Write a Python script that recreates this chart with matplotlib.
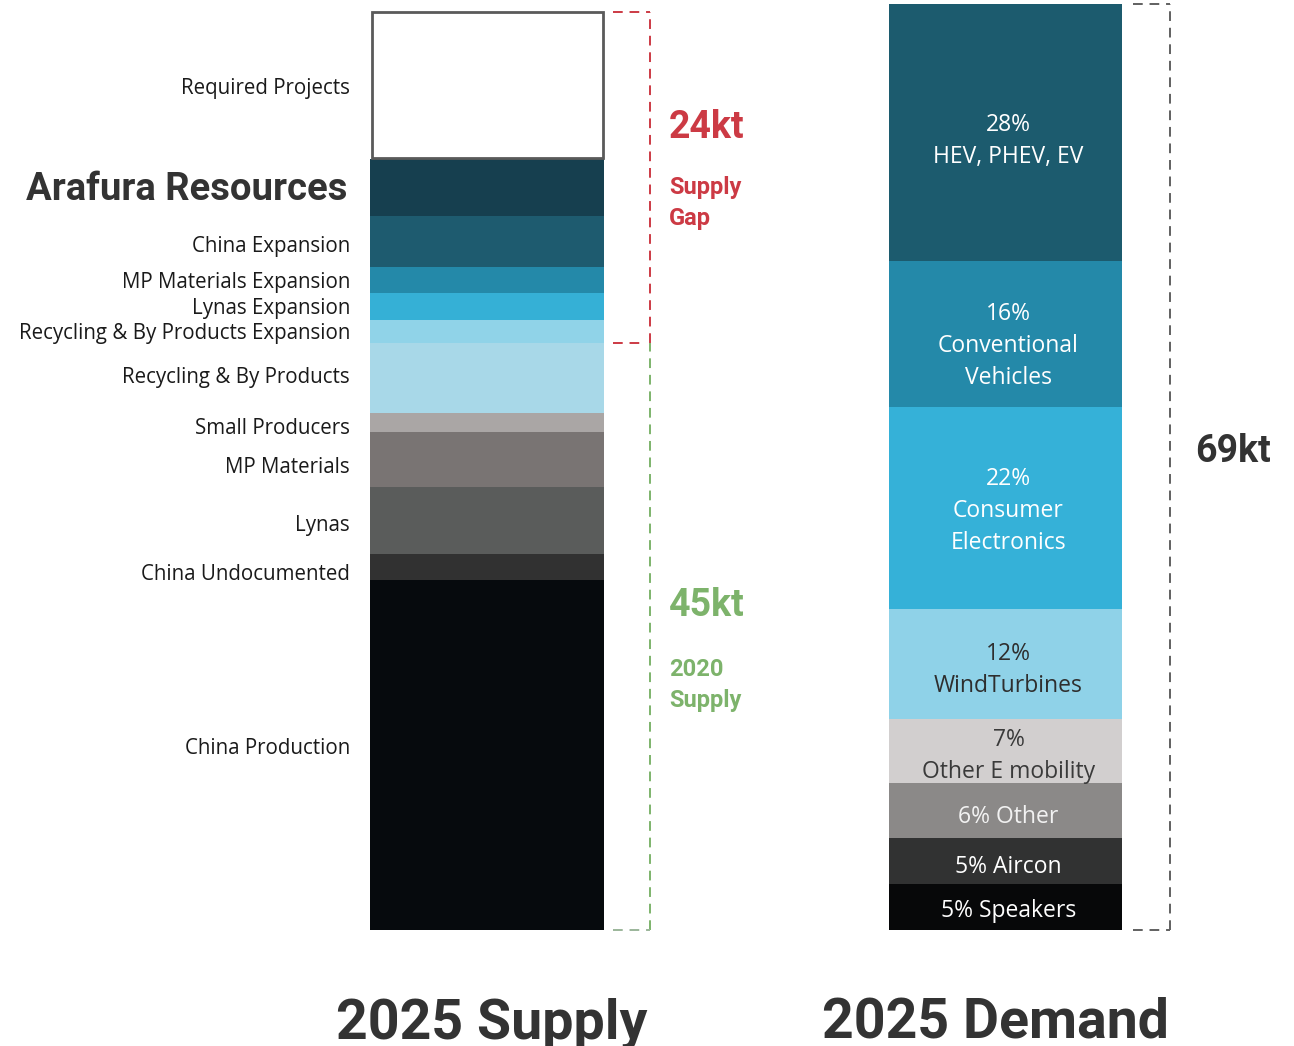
import numpy as np
import matplotlib
matplotlib.use("Agg")
import matplotlib.pyplot as plt

# ---------------- data ----------------
supply_labels = ["China Production", "China Undocumented", "Lynas", "MP Materials",
                 "Small Producers", "Recycling & By Products",
                 "Recycling & By Products Expansion", "Lynas Expansion",
                 "MP Materials Expansion", "China Expansion",
                 "Arafura Resources", "Required Projects"]
supply_kt = [26.3, 2.0, 5.0, 4.2, 1.4, 5.3, 1.7, 2.0, 2.0, 3.8, 4.3, 11.1]
supply_colors = ["#060a0d", "#313131", "#5a5c5b", "#797473", "#aaa6a5", "#a8d8e8",
                 "#90d3e8", "#35b0d6", "#2489a9", "#1e5b6f", "#163f4f", "#ffffff"]
n_existing = 6  # first six segments = 2020 supply

demand_labels = ["5% Speakers", "5% Aircon", "6% Other", "7%\nOther E mobility",
                 "12%\nWindTurbines", "22%\nConsumer\nElectronics",
                 "16%\nConventional\nVehicles", "28%\nHEV, PHEV, EV"]
demand_pct = [5, 5, 6, 7, 12, 22, 16, 28]
demand_total_kt = 69
demand_colors = ["#070809", "#313232", "#8b8988", "#d2cfcf", "#8fd2e8", "#35b1d8",
                 "#2489a9", "#1c5b6e"]
demand_text_colors = ["white", "white", "#f2f2f2", "#3a3a3a", "#2e2e2e", "white",
                      "white", "white"]

gap_label, gap_sub = "24kt", "Supply\nGap"
base_label, base_sub = "45kt", "2020\nSupply"
demand_label = "69kt"
titles = ["2025 Supply", "2025 Demand"]

# ---------------- layout ----------------
W, H = 1294, 1046
fig = plt.figure(figsize=(W / 100, H / 100), dpi=100)
ax = fig.add_axes([0, 0, 1, 1])
k = 13.29            # px per kt
y0_px = 930          # pixel row of zero
ax.set_xlim(0, W)
ax.set_ylim(-(H - y0_px) / k, y0_px / k)
ax.axis("off")

lab_font = "Open Sans"
bold_font = "Roboto"

# supply bar
xs, ws = 487, 234
sup = np.array(supply_kt)
sup_bottoms = np.concatenate([[0], np.cumsum(sup)[:-1]])
for i, (v, b, c) in enumerate(zip(sup, sup_bottoms, supply_colors)):
    if i == len(sup) - 1:
        ax.bar(xs, v - 0.08, bottom=b + 0.08, width=ws - 3, color=c,
               edgecolor="#5a5a5a", linewidth=2.0, zorder=3)
    else:
        ax.bar(xs, v, bottom=b, width=ws, color=c, linewidth=0, zorder=2)

label_dy_px = [-7, 7, 5, 8, 6, 0, 2, 2, 2, 5, 2, 3]
for i, lab in enumerate(supply_labels):
    yc = sup_bottoms[i] + sup[i] / 2 - label_dy_px[i] / k
    if lab == "Arafura Resources":
        ax.text(347, yc, lab, ha="right", va="center", fontsize=27.5,
                fontweight="bold", family=bold_font, color="#333333")
    else:
        ax.text(350, yc, lab, ha="right", va="center", fontsize=14.8,
                family=lab_font, color="#1a1a1a")

# demand bar
xd, wd = 1005.5, 233
dem = np.array(demand_pct) / 100 * demand_total_kt
dem_bottoms = np.concatenate([[0], np.cumsum(dem)[:-1]])
ax.bar(xd, dem, bottom=dem_bottoms, width=wd, color=demand_colors, linewidth=0, zorder=2)
dem_dy_px = [4, 6, 6, 5, 6, 3, 12, 9]
for i, lab in enumerate(demand_labels):
    yc = dem_bottoms[i] + dem[i] / 2 - dem_dy_px[i] / k
    ax.text(xd + 3, yc, lab, ha="center", va="center", fontsize=16.5,
            family=lab_font, color=demand_text_colors[i], linespacing=1.45, zorder=4)

# brackets
red, green, grey = "#cc3a44", "#7db36b", "#606060"
dash = (0, (5, 3.5))
top_sup = sup.sum()
base = sup[:n_existing].sum()
bx = 650
ax.plot([bx, bx], [base, top_sup], color=red, lw=1.4, ls=dash)
ax.plot([613, bx], [top_sup, top_sup], color=red, lw=1.4, ls=dash)
ax.plot([613, bx - 4], [base, base], color=red, lw=1.4, ls=dash)
ax.plot([bx, bx], [0, base], color=green, lw=1.4, ls=dash)
ax.plot([613, bx], [0, 0], color="#9bb59a", lw=1.4, ls=dash)
top_dem = dem.sum()
gx = 1170
ax.plot([gx, gx], [0, top_dem], color=grey, lw=1.4, ls=dash)
ax.plot([1133, gx], [top_dem, top_dem], color=grey, lw=1.4, ls=dash)
ax.plot([1133, gx], [0, 0], color=grey, lw=1.4, ls=dash)

# bracket texts (pixel-row positions converted to data)
def py(p):
    return (y0_px - p) / k

ax.text(669, py(128), gap_label, ha="left", va="center", fontsize=27,
        fontweight="bold", family=bold_font, color=red)
ax.text(669, py(203), gap_sub, ha="left", va="center", fontsize=17,
        fontweight="bold", family=bold_font, color=red, linespacing=1.4)
ax.text(669, py(605), base_label, ha="left", va="center", fontsize=27,
        fontweight="bold", family=bold_font, color=green)
ax.text(669, py(685), base_sub, ha="left", va="center", fontsize=17,
        fontweight="bold", family=bold_font, color=green, linespacing=1.4)
ax.text(1195, py(452), demand_label, ha="left", va="center", fontsize=27,
        fontweight="bold", family=bold_font, color="#333333")

# titles
ax.text(492, py(1038), titles[0], ha="center", va="baseline", fontsize=40,
        fontweight="bold", family=bold_font, color="#333333")
ax.text(995, py(1038), titles[1], ha="center", va="baseline", fontsize=40,
        fontweight="bold", family=bold_font, color="#333333")

fig.savefig("out.png", dpi=100, facecolor="white")
